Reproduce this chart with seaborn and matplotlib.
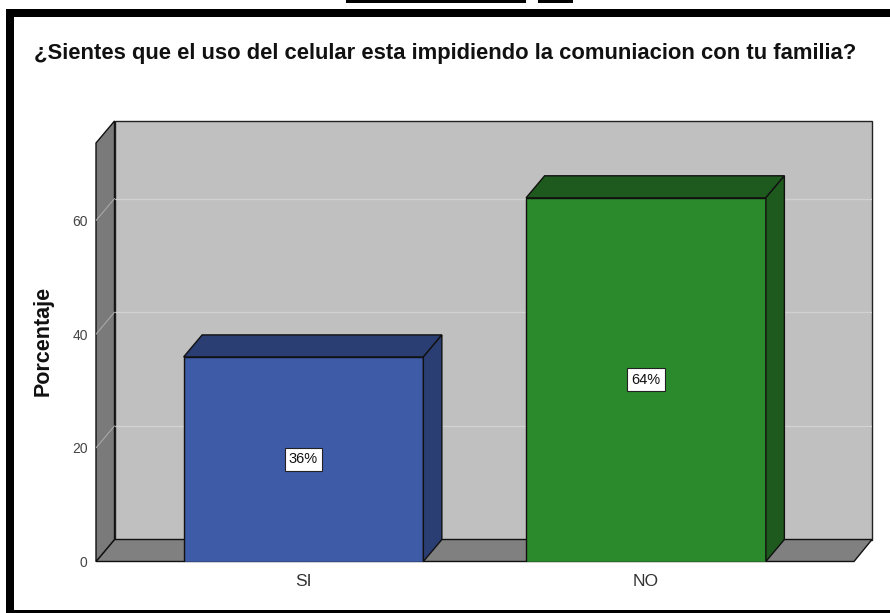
import numpy as np
import pandas as pd
import matplotlib
matplotlib.use("Agg")
import matplotlib.pyplot as plt
from matplotlib.patches import Polygon, Rectangle
import seaborn as sns

# data
categorias = ["SI", "NO"]
porcentajes = [36.0, 64.0]
etiquetas = ["36%", "64%"]
ticks_y = [0, 20, 40, 60]
titulo = "¿Sientes que el uso del celular esta impidiendo la comuniacion con tu familia?"

frente = ["#3e5ba8", "#2a8a2c"]
oscuro = ["#2b3e74", "#1e5a1e"]

sns.set_theme(style="white")
plt.rcParams["font.family"] = ["Liberation Sans", "DejaVu Sans"]

W, H = 890, 613
fig = plt.figure(figsize=(W / 100, H / 100), dpi=100)

# axes box in pixels: front plane + depth
left_px, right_px, bot_px, top_px = 96, 872, 561.5, 121
ax = fig.add_axes([left_px / W, 1 - bot_px / H, (right_px - left_px) / W, (bot_px - top_px) / H])

df = pd.DataFrame({"cat": categorias, "pct": porcentajes})
bw = 0.7
sns.barplot(data=df, x="cat", y="pct", hue="cat", palette=frente, legend=False,
            width=bw, edgecolor="#111111", linewidth=1.0, saturation=1, ax=ax, zorder=3)

# scale: 342.5 px per category, 5.683 px per percent
xpx, ypx = 342.5, 5.683
x0 = -(303.5 - left_px) / xpx
x1 = x0 + (right_px - left_px) / xpx
y1 = (bot_px - top_px) / ypx
ax.set_xlim(x0, x1)
ax.set_ylim(0, y1)
dx = 18.5 / xpx
dy = 22 / ypx
x_front_right = (854 - 303.5) / xpx
y_wall_top = y1 - dy

# back wall
ax.add_patch(Polygon([(x0 + dx, dy), (x0 + dx, y1), (x1, y1), (x1, dy)], closed=True,
                     facecolor="#c0c0c0", edgecolor="#222222", lw=1.0, zorder=0.5, clip_on=False))
for t in ticks_y[1:]:
    ax.plot([x0 + dx, x1], [t + dy, t + dy], color="#d2d2d2", lw=0.9, zorder=0.6)
    ax.plot([x0, x0 + dx], [t, t + dy], color="#a8a8a8", lw=0.8, zorder=1.2)
# floor
ax.add_patch(Polygon([(x0, 0), (x0 + dx, dy), (x1, dy), (x_front_right, 0)], closed=True,
                     facecolor="#808080", edgecolor="#111111", lw=1.0, zorder=0.8, clip_on=False))
# left side wall
ax.add_patch(Polygon([(x0, 0), (x0, y_wall_top), (x0 + dx, y1), (x0 + dx, dy)], closed=True,
                     facecolor="#7a7a7a", edgecolor="#111111", lw=1.0, zorder=1.0, clip_on=False))

# 3d faces of the bars
for i, v in enumerate(porcentajes):
    a, b = i - bw / 2, i + bw / 2
    ax.add_patch(Polygon([(a, v), (a + dx, v + dy), (b + dx, v + dy), (b, v)], closed=True,
                         facecolor=oscuro[i], edgecolor="#111111", lw=1.0, zorder=3))
    ax.add_patch(Polygon([(b, 0), (b, v), (b + dx, v + dy), (b + dx, dy)], closed=True,
                         facecolor=oscuro[i], edgecolor="#111111", lw=1.0, zorder=3))
    ax.text(i, v / 2, etiquetas[i], ha="center", va="center", fontsize=10.5, color="#111111", zorder=5,
            bbox=dict(boxstyle="square,pad=0.3", facecolor="white", edgecolor="#222222", lw=0.8))

for s in ax.spines.values():
    s.set_visible(False)
ax.set_yticks(ticks_y)
ax.set_yticklabels([str(t) for t in ticks_y], fontsize=10, color="#444444")
ax.tick_params(axis="y", length=0, pad=6)
ax.tick_params(axis="x", length=0, pad=9, labelsize=12.5, labelcolor="#333333")
ax.set_xlabel("")
ax.set_ylabel("Porcentaje", fontsize=15.5, fontweight="bold", color="#111111", labelpad=13)
ax.patch.set_alpha(0)

fig.text(445 / W, 1 - 54 / H, titulo, ha="center", va="center", fontsize=15.8,
         fontweight="bold", color="#111111")

# black frame around the picture
def px_rect(x, y, w, h):
    fig.add_artist(Rectangle((x / W, 1 - (y + h) / H), w / W, h / H, transform=fig.transFigure,
                             facecolor="black", edgecolor="none"))

px_rect(6, 9, 884, 8)
px_rect(6, 9, 8, 604)
px_rect(6, 610, 884, 3)
px_rect(346, 0, 180, 2.5)
px_rect(538, 0, 35, 2.5)

fig.savefig("out.png", dpi=100, facecolor="white")
